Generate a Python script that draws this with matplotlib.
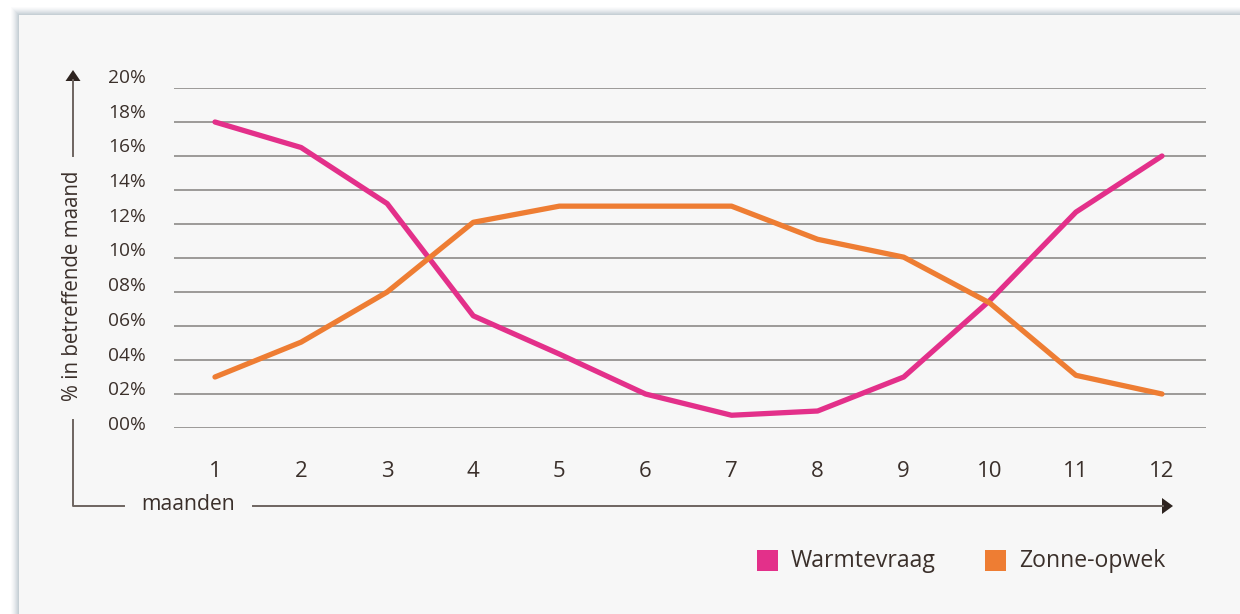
import matplotlib
matplotlib.use("Agg")
import matplotlib.pyplot as plt
from matplotlib.patches import Rectangle, Polygon
from matplotlib.lines import Line2D
from matplotlib.transforms import offset_copy

# Monthly share (%) of the yearly total
maanden = list(range(1, 13))
warmtevraag = [18.0, 16.5, 13.2, 6.6, 4.35, 2.0, 0.75, 1.0, 3.0, 7.5, 12.7, 16.0]
zonne_opwek = [3.0, 5.05, 8.0, 12.1, 13.05, 13.05, 13.05, 11.1, 10.05, 7.35, 3.1, 2.0]
y_ticks = [0, 2, 4, 6, 8, 10, 12, 14, 16, 18, 20]
y_tick_labels = ["00%", "02%", "04%", "06%", "08%", "10%", "12%", "14%", "16%", "18%", "20%"]
series_names = ["Warmtevraag", "Zonne-opwek"]

PINK = "#e3308a"
ORANGE = "#ee7d33"
TEXT = "#3b302b"
GRID = "#9c9a98"
AXIS = "#6e6560"
FONT = ["Open Sans", "DejaVu Sans"]
FS = 13.8

W, H = 1240, 614
fig = plt.figure(figsize=(W / 100, H / 100), dpi=100)
fig.patch.set_facecolor("white")


def fx(x):
    return x / W


def fy(y):
    return 1 - y / H


# panel with a soft shadow along its top and left edges
for i, a in enumerate([0.04, 0.05, 0.06, 0.08, 0.10, 0.12, 0.15, 0.18]):
    off = 8 - i
    fig.patches.append(Rectangle((fx(19 - off), 0), 1, fy(15 - off),
                                 transform=fig.transFigure, facecolor="#9fb0b8",
                                 alpha=a, edgecolor="none", zorder=-3))
fig.patches.append(Rectangle((fx(19), 0), 1, fy(15), transform=fig.transFigure,
                             facecolor="#f7f7f7", edgecolor="none", zorder=-2))

ax = fig.add_axes([fx(174), fy(428), fx(1206) - fx(174), fy(88) - fy(428)])
ax.set_zorder(1)
ax.set_facecolor("none")
ax.set_xlim(0.524, 12.511)
ax.set_ylim(0, 20)
for s in ax.spines.values():
    s.set_visible(False)

for v in y_ticks:
    ax.axhline(v, color=GRID, lw=1.4, zorder=1)

ax.plot(maanden, warmtevraag, color=PINK, lw=3.8, solid_capstyle="round",
        solid_joinstyle="round", zorder=3, clip_on=False)
ax.plot(maanden, zonne_opwek, color=ORANGE, lw=3.8, solid_capstyle="round",
        solid_joinstyle="round", zorder=3, clip_on=False)

# y labels sit slightly above their gridlines, drifting further up the scale
ax.set_yticks(y_ticks)
ax.set_yticklabels([])
ax.tick_params(axis="y", length=0)
ytrans = ax.get_yaxis_transform()
for v, lab in zip(y_ticks, y_tick_labels):
    lift = 3 + 7 * v / 20
    ax.text(0, v, lab, transform=offset_copy(ytrans, fig=fig, x=-28, y=lift, units="dots"),
            ha="right", va="center", fontfamily=FONT, fontsize=FS, color=TEXT)

ax.set_xticks(maanden)
ax.set_xticklabels([str(m) for m in maanden], fontfamily=FONT, fontsize=16, color=TEXT)
ax.tick_params(axis="x", length=0, pad=24)

# vertical axis arrow
fig.add_artist(Line2D([fx(73), fx(73)], [fy(156), fy(80)], color=AXIS, lw=1.4,
                      transform=fig.transFigure))
fig.add_artist(Polygon([[fx(65.5), fy(81)], [fx(80.5), fy(81)], [fx(73), fy(70)]],
                       closed=True, transform=fig.transFigure,
                       facecolor="#2e2420", edgecolor="none"))
fig.text(fx(72), fy(286), "% in betreffende maand", rotation=90, ha="center",
         va="center", fontfamily=FONT, fontsize=14.8, color=TEXT)

# corner line running into the horizontal axis arrow
fig.add_artist(Line2D([fx(73), fx(73), fx(124)], [fy(420), fy(506), fy(506)],
                      color=AXIS, lw=1.4, transform=fig.transFigure))
fig.text(fx(188.5), fy(505), "maanden", ha="center", va="center",
         fontfamily=FONT, fontsize=15.2, color=TEXT)
fig.add_artist(Line2D([fx(253), fx(1163)], [fy(506), fy(506)],
                      color=AXIS, lw=1.4, transform=fig.transFigure))
fig.add_artist(Polygon([[fx(1162), fy(498)], [fx(1162), fy(514)], [fx(1173), fy(506)]],
                       closed=True, transform=fig.transFigure,
                       facecolor="#2e2420", edgecolor="none"))

# legend
for x0, col, name in [(757, PINK, series_names[0]), (985, ORANGE, series_names[1])]:
    fig.patches.append(Rectangle((fx(x0), fy(571)), fx(21), fy(550) - fy(571),
                                 transform=fig.transFigure, facecolor=col,
                                 edgecolor="none"))
    fig.text(fx(x0 + 34), fy(561), name, ha="left", va="center",
             fontfamily=FONT, fontsize=16.6, color=TEXT)

fig.savefig("out.png", dpi=100, facecolor=fig.get_facecolor())
